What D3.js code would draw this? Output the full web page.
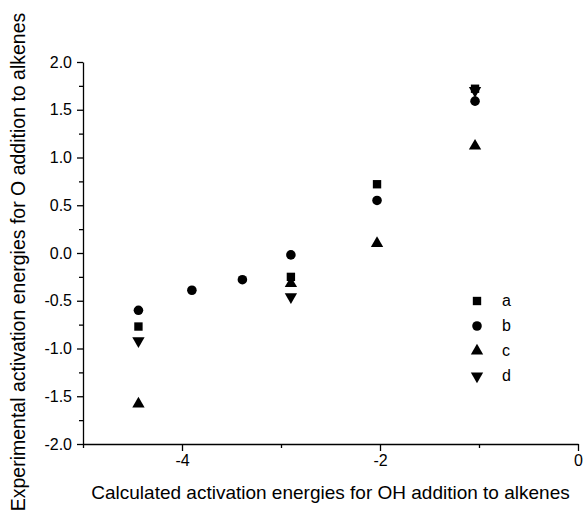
<!DOCTYPE html>
<html>
<head>
<meta charset="utf-8">
<script src="https://cdn.jsdelivr.net/npm/d3@7"></script>
<style>
  body { margin: 0; background: #fff; }
  svg { display: block; }
  svg text { font-family: "Liberation Sans", Arial, sans-serif; }
</style>
</head>
<body>
<svg id="chart" width="588" height="514"></svg>
<script>
// Values
const seriesNames = ["a", "b", "c", "d"];
const xA = [-4.44, -2.9, -2.03, -1.04];
const yA = [-0.77, -0.25, 0.72, 1.72];
const xB = [-4.44, -3.9, -3.39, -2.9, -2.03, -1.04];
const yB = [-0.60, -0.39, -0.28, -0.02, 0.55, 1.59];
const xC = [-4.44, -2.9, -2.03, -1.04];
const yC = [-1.58, -0.32, 0.10, 1.12];
const xD = [-4.44, -2.9, -1.04];
const yD = [-0.92, -0.46, 1.70];
const xTicks = [-4, -2, 0];
const yTicks = [-2.0, -1.5, -1.0, -0.5, 0.0, 0.5, 1.0, 1.5, 2.0];

const svg = d3.select("#chart");
const margin = {top: 62, right: 10, bottom: 70, left: 83};

const x = d3.scaleLinear().domain([-5, 0]).range([margin.left, 578]);
const y = d3.scaleLinear().domain([-2, 2]).range([444, margin.top]);

// minor ticks
svg.append("g")
    .attr("transform", `translate(0,${y(-2)})`)
    .call(d3.axisBottom(x).tickValues([-5, -3, -1]).tickSize(4).tickFormat(""))
    .call(g => g.select(".domain").remove());
svg.append("g")
    .attr("transform", `translate(${x(-5)},0)`)
    .call(d3.axisLeft(y).tickValues(d3.range(-1.75, 2, 0.5)).tickSize(4).tickFormat(""))
    .call(g => g.select(".domain").remove());

svg.append("g")
    .attr("transform", `translate(0,${y(-2)})`)
    .call(d3.axisBottom(x).tickValues(xTicks).tickSize(7).tickPadding(4).tickSizeOuter(0)
        .tickFormat(d => d === 0 ? "0" : "-" + Math.abs(d)));
svg.append("g")
    .attr("transform", `translate(${x(-5)},0)`)
    .call(d3.axisLeft(y).tickValues(yTicks).tickSize(6).tickPadding(5).tickSizeOuter(0)
        .tickFormat(d => (d < 0 ? "-" : "") + Math.abs(d).toFixed(1)));

svg.selectAll("g").attr("font-family", null).attr("font-size", null);
svg.selectAll(".tick text").attr("font-size", 16).attr("fill", "#000");
svg.selectAll(".domain, .tick line").attr("stroke", "#000").attr("stroke-width", 1.3);

svg.append("text")
    .attr("x", (margin.left + 578) / 2)
    .attr("y", 499)
    .attr("text-anchor", "middle")
    .attr("font-size", 19)
    .text("Calculated activation energies for OH addition to alkenes");

svg.append("text")
    .attr("transform", `translate(25,262) rotate(-90)`)
    .attr("text-anchor", "middle")
    .attr("font-size", 19.5)
    .text("Experimental activation energies for O addition to alkenes");

const shapes = [
    d3.symbol().type(d3.symbolSquare).size(70),
    d3.symbol().type(d3.symbolCircle).size(72),
    d3.symbol().type(d3.symbolTriangle).size(66),
    d3.symbol().type(d3.symbolTriangle).size(66)
];
const series = [
    {xs: xA, ys: yA}, {xs: xB, ys: yB}, {xs: xC, ys: yC}, {xs: xD, ys: yD}
];

// draw d, c first so a and b sit on top
[3, 2, 1, 0].forEach(i => {
    const s = series[i];
    svg.append("g").selectAll("path")
        .data(s.xs.map((v, j) => [v, s.ys[j]]))
        .join("path")
        .attr("d", shapes[i])
        .attr("transform", d => `translate(${x(d[0])},${y(d[1])})` + (i === 3 ? " rotate(180)" : ""))
        .attr("fill", "#000");
});

// legend
const legend = svg.append("g").attr("transform", "translate(477,301)");
seriesNames.forEach((name, i) => {
    legend.append("path")
        .attr("d", shapes[i])
        .attr("transform", `translate(0,${i * 25})` + (i === 3 ? " rotate(180)" : ""))
        .attr("fill", "#000");
    legend.append("text")
        .attr("x", 25)
        .attr("y", i * 25 - 1)
        .attr("dy", "0.35em")
        .attr("font-size", 16)
        .text(name);
});
</script>
</body>
</html>
